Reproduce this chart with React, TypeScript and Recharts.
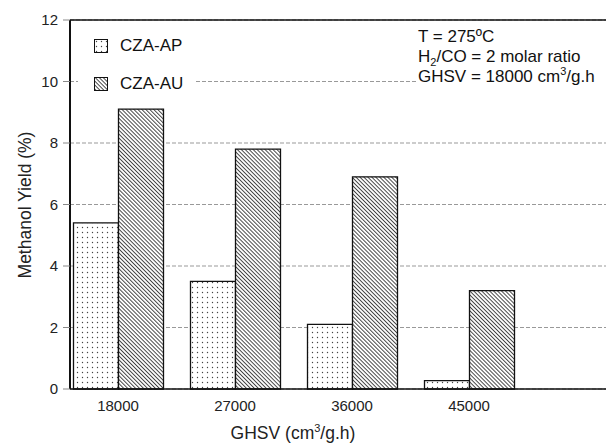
import React from "react";
import {
  BarChart,
  Bar,
  XAxis,
  YAxis,
  CartesianGrid,
  ReferenceLine,
  Legend,
  Label,
} from "recharts";

const ghsv = [18000, 27000, 36000, 45000];
const czaAP = [5.4, 3.5, 2.1, 0.27];
const czaAU = [9.1, 7.8, 6.9, 3.2];
const yTicks = [0, 2, 4, 6, 8, 10, 12];
const seriesNames = ["CZA-AP", "CZA-AU"];

const data = ghsv.map((g, i) => ({ ghsv: g, ap: czaAP[i], au: czaAU[i] }));

const FONT = "'Liberation Sans', Arial, sans-serif";

function Patterns() {
  return (
    <svg width={0} height={0} style={{ position: "absolute" }}>
      <defs>
        <pattern id="dots" width={5} height={5} patternUnits="userSpaceOnUse">
          <rect width={5} height={5} fill="#fff" />
          <circle cx={2.5} cy={2.5} r={0.7} fill="#444" />
        </pattern>
        <pattern
          id="hatch"
          width={2.8}
          height={2.8}
          patternUnits="userSpaceOnUse"
          patternTransform="rotate(-45)"
        >
          <rect width={2.8} height={2.8} fill="#fff" />
          <line x1={0.5} y1={0} x2={0.5} y2={2.8} stroke="#333" strokeWidth={0.9} />
        </pattern>
      </defs>
    </svg>
  );
}

function LegendBox() {
  const fills = ["url(#dots)", "url(#hatch)"];
  return (
    <div style={{ background: "#fff", padding: "6px 8px 4px 16px", fontFamily: FONT }}>
      {seriesNames.map((n, i) => (
        <div
          key={n}
          style={{
            display: "flex",
            alignItems: "center",
            height: 38,
            fontSize: 17,
            color: "#111",
          }}
        >
          <svg width={14} height={14} style={{ marginRight: 12 }}>
            <rect x={0.5} y={0.5} width={13} height={13} fill={fills[i]} stroke="#111" />
          </svg>
          {n}
        </div>
      ))}
    </div>
  );
}

export default function App() {
  return (
    <div
      style={{
        position: "absolute",
        left: 0,
        top: 0,
        width: 606,
        height: 444,
        background: "#fff",
        fontFamily: FONT,
      }}
    >
      <Patterns />
      <BarChart
        width={606}
        height={444}
        data={data}
        margin={{ top: 20, right: 0, left: 0, bottom: 0 }}
        barGap={0}
      >
        <CartesianGrid vertical={false} stroke="#999" strokeDasharray="4 2" />
        <XAxis
          dataKey="ghsv"
          type="number"
          domain={[14308, 55538]}
          ticks={ghsv}
          allowDataOverflow
          height={55}
          tickLine={false}
          tickSize={0}
          tickMargin={11}
          axisLine={{ stroke: "#111", strokeWidth: 1.5 }}
          tick={{ fill: "#222", fontSize: 15, fontFamily: FONT }}
        >
          <Label
            content={() => (
              <text
                x={293}
                y={439}
                textAnchor="middle"
                fontSize={17.5}
                fontFamily={FONT}
                fill="#222"
              >
                GHSV (cm
                <tspan fontSize={11} dy={-7}>
                  3
                </tspan>
                <tspan dy={7}>/g.h)</tspan>
              </text>
            )}
          />
        </XAxis>
        <YAxis
          width={70}
          domain={[0, 12]}
          ticks={yTicks}
          tickSize={7}
          tickMargin={5}
          tickLine={{ stroke: "#888" }}
          axisLine={{ stroke: "#111", strokeWidth: 2 }}
          tick={{ fill: "#222", fontSize: 15, fontFamily: FONT }}
        >
          <Label
            content={() => (
              <text
                x={25}
                y={205}
                transform="rotate(-90, 25, 205)"
                textAnchor="middle"
                dominantBaseline="central"
                fontSize={17.5}
                fontFamily={FONT}
                fill="#222"
              >
                Methanol Yield (%)
              </text>
            )}
          />
        </YAxis>
        <ReferenceLine y={12} stroke="#111" strokeWidth={1.5} />
        <Legend
          layout="vertical"
          verticalAlign="middle"
          align="center"
          content={() => <LegendBox />}
          wrapperStyle={{ left: 78, top: 21, width: 118 }}
        />
        <Bar
          dataKey="ap"
          name={seriesNames[0]}
          fill="url(#dots)"
          stroke="#111"
          strokeWidth={1.3}
          barSize={45}
          isAnimationActive={false}
        />
        <Bar
          dataKey="au"
          name={seriesNames[1]}
          fill="url(#hatch)"
          stroke="#111"
          strokeWidth={1.3}
          barSize={45}
          isAnimationActive={false}
        />
      </BarChart>
      <div
        style={{
          position: "absolute",
          left: 416,
          top: 27,
          width: 190,
          background: "#fff",
          fontSize: 17,
          lineHeight: "20px",
          color: "#111",
          paddingLeft: 2,
        }}
      >
        <div>T = 275ºC</div>
        <div>
          H<sub style={{ fontSize: 11, lineHeight: 0 }}>2</sub>/CO = 2 molar ratio
        </div>
        <div>
          GHSV = 18000 cm<sup style={{ fontSize: 11, lineHeight: 0 }}>3</sup>/g.h
        </div>
      </div>
    </div>
  );
}
